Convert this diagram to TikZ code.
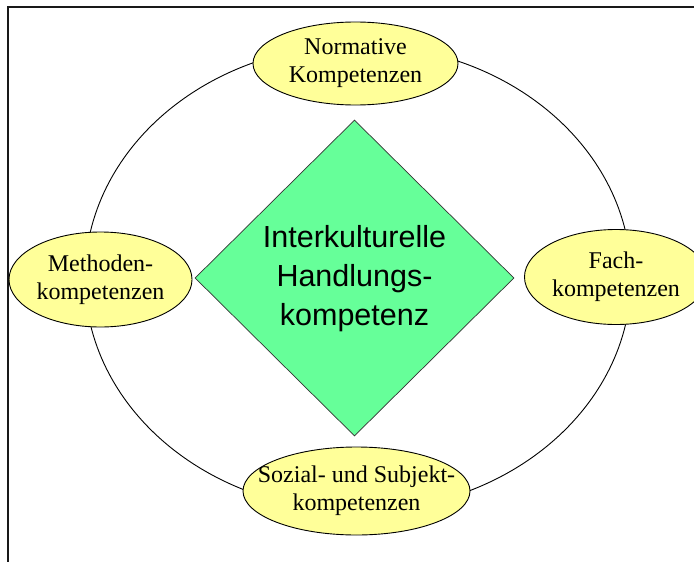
\documentclass[tikz,border=0pt]{standalone}
\usepackage{fontspec}
\usetikzlibrary{shapes.geometric}
\newfontfamily\compserif{Liberation Serif}
\newfontfamily\compsans{Liberation Sans}
\definecolor{compyellow}{HTML}{FFFF99}
\definecolor{coregreen}{HTML}{66FF99}
\begin{document}
\begin{tikzpicture}[x=1pt,y=-1pt,
  comp/.style={ellipse, draw=black, line width=0.9pt, fill=compyellow, inner sep=0pt},
  comptext/.style={font=\compserif\fontsize{24}{28}\selectfont, align=center, inner sep=0pt},
  core/.style={diamond, draw=black!80, line width=0.7pt, fill=coregreen, inner sep=0pt},
  coretext/.style={font=\compsans\fontsize{30.5}{39}\selectfont, align=center, inner sep=0pt},
  frameline/.style={line width=2.2pt, draw=black!90}
]
\useasboundingbox (0,0) rectangle (694,562);
\clip (0,0) rectangle (694,562);
\fill[white] (0,0) rectangle (694,562);
% frame
\coordinate (fc) at (8.3,7);
\coordinate (fr) at (700,7);
\coordinate (fb) at (8.3,570);
\draw[frameline] (fr) -- (fc) -- (fb);
% big ring
\coordinate (ringc) at (358,278);
\draw[line width=0.9pt] (ringc) ellipse [x radius=273, y radius=233];
% central diamond
\node[core, minimum width=319pt, minimum height=316pt] (core) at (354.5,278) {};
\node[coretext] (coret) at (354.5,279) {Interkulturelle\\Handlungs-\\kompetenz};
% surrounding ellipses
\node[comp, minimum width=205pt, minimum height=83pt] (norm) at (355.5,63.5) {};
\node[comptext] (normt) at (norm.center) {Normative\\Kompetenzen};
\node[comp, minimum width=183pt, minimum height=95pt] (meth) at (100.5,279.5) {};
\node[comptext] (metht) at (meth.center) {Methoden-\\kompetenzen};
\node[comp, minimum width=183pt, minimum height=95pt] (fach) at (616,277) {};
\node[comptext] (facht) at (fach.center) {Fach-\\kompetenzen};
\node[comp, minimum width=227pt, minimum height=88pt] (soz) at (356.5,491) {};
\node[comptext] (sozt) at (soz.center) {Sozial- und Subjekt-\\kompetenzen};
\end{tikzpicture}
\end{document}
